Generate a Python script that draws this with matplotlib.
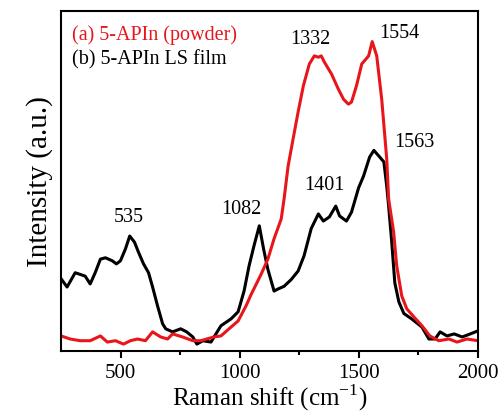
import matplotlib.pyplot as plt
import numpy as np

plt.rcParams['font.family'] = ['Liberation Serif', 'DejaVu Serif']

# (a) 5-APIn powder, red curve
shift_a = [250, 288, 330, 372, 415, 444, 478, 512, 541, 571, 604, 634, 668, 697, 718,
           760, 803, 836, 891, 921, 955, 993, 1026, 1047, 1090, 1118, 1144, 1174, 1186,
           1203, 1224, 1245, 1267, 1292, 1313, 1330, 1342, 1355, 1372, 1385, 1414, 1436,
           1456, 1469, 1490, 1512, 1541, 1556, 1575, 1596, 1617, 1625, 1646, 1659, 1680,
           1701, 1731, 1765, 1798, 1836, 1878, 1912, 1954, 2000]
int_a = [4.4, 3.5, 3.0, 3.0, 4.4, 2.6, 3.0, 2.0, 3.0, 3.5, 3.0, 5.6, 4.1, 3.5, 5.0,
         4.1, 3.0, 3.0, 4.1, 4.4, 6.5, 8.8, 13.2, 16.5, 22.6, 27.0, 33.0, 38.8, 44.7,
         54.4, 62.4, 70.3, 78.0, 84.4, 86.8, 86.4, 86.8, 85.0, 83.0, 81.5, 77.0, 74.0,
         72.6, 73.2, 78.0, 84.4, 86.8, 91.0, 86.8, 74.0, 56.5, 44.7, 35.0, 25.0, 16.2,
         12.4, 10.0, 7.4, 4.4, 3.0, 3.5, 2.6, 3.5, 3.0]

# (b) 5-APIn LS film, black curve
shift_b = [250, 275, 309, 351, 372, 393, 415, 436, 465, 482, 499, 520, 538, 558, 575,
           596, 617, 634, 655, 676, 689, 718, 752, 777, 803, 820, 845, 879, 900, 921,
           963, 993, 1018, 1039, 1060, 1082, 1100, 1118, 1144, 1160, 1186, 1216, 1245,
           1270, 1300, 1330, 1351, 1376, 1403, 1419, 1448, 1469, 1499, 1520, 1545, 1563,
           1588, 1605, 1617, 1625, 1638, 1651, 1668, 1689, 1722, 1765, 1794, 1820, 1841,
           1870, 1900, 1934, 1968, 2000]
int_b = [21.2, 18.8, 23.0, 22.0, 19.7, 23.0, 27.0, 27.4, 26.5, 25.6, 26.5, 30.0, 33.8,
         32.0, 29.0, 25.6, 23.0, 18.8, 13.2, 8.0, 6.5, 5.6, 6.5, 5.6, 4.1, 2.0, 3.0,
         2.6, 5.0, 7.4, 9.4, 11.5, 17.6, 25.0, 31.0, 36.8, 30.0, 24.0, 17.6, 18.2, 19.0,
         21.0, 23.5, 28.0, 36.0, 40.3, 38.2, 39.4, 42.6, 39.7, 38.2, 40.8, 48.0, 51.5,
         57.0, 59.0, 57.0, 55.6, 48.5, 42.6, 32.0, 20.0, 14.4, 11.0, 9.4, 7.0, 3.5, 3.5,
         5.6, 4.4, 5.0, 4.1, 5.0, 5.9]

peak_labels = ['535', '1082', '1401', '1563', '1332', '1554']
peak_x = [533, 1005, 1355, 1731, 1296, 1672]
peak_y = [39.4, 41.8, 49.0, 61.5, 92.0, 93.8]

red = '#e8161b'

fig = plt.figure(figsize=(5.01, 4.14), dpi=100)
ax = fig.add_axes([0.122, 0.150, 0.832, 0.821])

ax.plot(shift_b, int_b, color='black', lw=2.2)
ax.plot(shift_a, int_a, color=red, lw=2.2)

for lab, px, py in zip(peak_labels, peak_x, peak_y):
    ax.text(px, py, lab, ha='center', va='center', fontsize=14.5)

ax.text(0.026, 0.932, '(a) 5-APIn (powder)', color=red, fontsize=14.5,
        transform=ax.transAxes, va='center')
ax.text(0.026, 0.859, '(b) 5-APIn LS film', color='black', fontsize=14.5,
        transform=ax.transAxes, va='center')

ax.set_xlim(250, 2000)
ax.set_ylim(0, 100)
ax.set_xticks([500, 1000, 1500, 2000])
ax.set_xticks([750, 1250, 1750], minor=True)
ax.set_yticks([])
ax.tick_params(axis='x', which='major', direction='out', length=5, width=1.5, labelsize=15, pad=4)
ax.tick_params(axis='x', which='minor', direction='out', length=3, width=1.5)
for s in ax.spines.values():
    s.set_linewidth(1.5)

ax.set_xlabel('Raman shift (cm$^{\\mathregular{-1}}$)', fontsize=18, labelpad=-1)
ax.set_ylabel('Intensity (a.u.)', fontsize=21, labelpad=6)

fig.savefig('out.png', dpi=100)
